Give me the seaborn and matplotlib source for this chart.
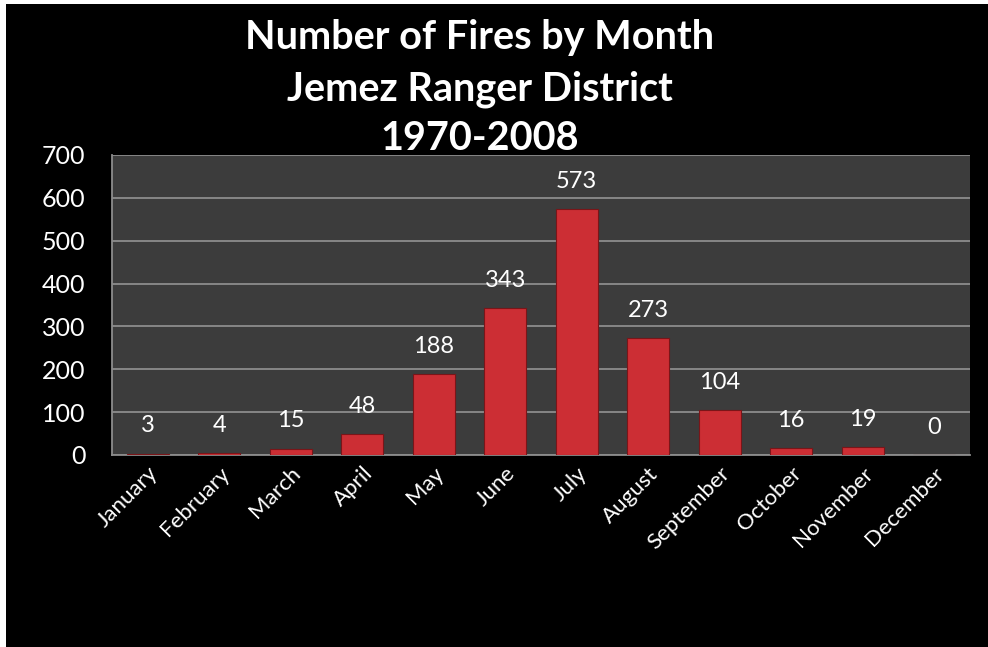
import matplotlib
matplotlib.use("Agg")
import matplotlib.pyplot as plt
import seaborn as sns
import pandas as pd
from matplotlib.patches import Rectangle

months = ["January", "February", "March", "April", "May", "June", "July",
          "August", "September", "October", "November", "December"]
fires = [3, 4, 15, 48, 188, 343, 573, 273, 104, 16, 19, 0]
title_lines = ["Number of Fires by Month", "Jemez Ranger District", "1970-2008"]

df = pd.DataFrame({"Month": months, "Fires": fires})

sns.set_theme(style="dark")
plt.rcParams["font.family"] = ["Lato", "DejaVu Sans"]

fig = plt.figure(figsize=(9.88, 6.47), dpi=100, facecolor="white")
# black slide background with thin white strip top/left
fig.patches.append(Rectangle((6 / 988, 0), 1, 643 / 647, transform=fig.transFigure,
                             facecolor="black", edgecolor="none", zorder=-10))

ax = fig.add_axes([112 / 988, 1 - 455 / 647, (970 - 112) / 988, (455 - 155) / 647])
ax.set_facecolor("#3c3c3c")

sns.barplot(data=df, x="Month", y="Fires", color="#cc2e34", width=0.59,
            edgecolor="#7a1518", linewidth=0.8, saturation=1, ax=ax, zorder=3)

ax.set_ylim(0, 700)
ax.set_yticks(range(0, 701, 100))
ax.grid(axis="y", color="#8c8c8c", linewidth=1.3, zorder=0)
ax.grid(axis="x", visible=False)
ax.set_axisbelow(True)
for side in ["top", "right"]:
    ax.spines[side].set_visible(False)
ax.spines["left"].set_color("#8c8c8c")
ax.spines["bottom"].set_color("#8c8c8c")
ax.spines["left"].set_linewidth(1.3)
ax.spines["bottom"].set_linewidth(1.3)

ax.set_xlabel("")
ax.set_ylabel("")
ax.tick_params(axis="y", colors="white", labelsize=18, length=0, pad=19)
ax.tick_params(axis="x", colors="white", labelsize=16, length=0, pad=6)
for lbl in ax.get_xticklabels():
    lbl.set_rotation(45)
    lbl.set_ha("right")
    lbl.set_rotation_mode("anchor")

for i, v in enumerate(fires):
    ax.annotate(str(v), (i, v), xytext=(0, 20), textcoords="offset points",
                ha="center", va="center", color="white", fontsize=17)

fig.text(480 / 988, 1 - 38 / 647, title_lines[0], ha="center", va="center",
         color="white", fontsize=28.5, fontweight="bold")
fig.text(480 / 988, 1 - 89 / 647, title_lines[1], ha="center", va="center",
         color="white", fontsize=28.5, fontweight="bold")
fig.text(480 / 988, 1 - 139 / 647, title_lines[2], ha="center", va="center",
         color="white", fontsize=28.5, fontweight="bold")

fig.savefig("out.png", dpi=100, facecolor=fig.get_facecolor())
